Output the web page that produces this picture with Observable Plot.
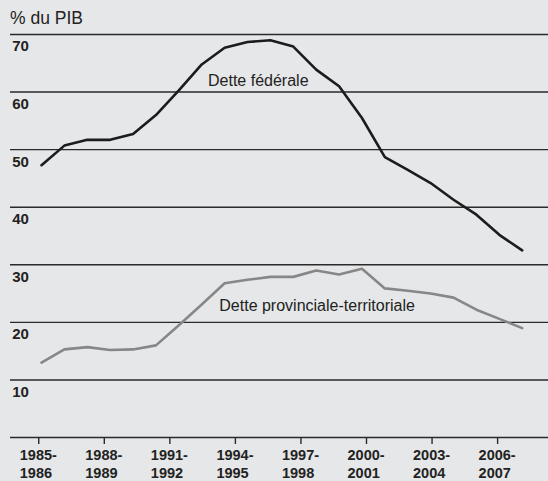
<!DOCTYPE html>
<html>
<head>
<meta charset="utf-8">
<script src="https://cdn.jsdelivr.net/npm/d3@7"></script>
<script src="https://cdn.jsdelivr.net/npm/@observablehq/plot@0.6"></script>
<style>
  html, body { margin: 0; padding: 0; background: #e6e7e8; }
  #wrap { position: relative; width: 548px; height: 481px; font-family: "Liberation Sans", Arial, sans-serif; }
  #title { position: absolute; left: 10px; top: 10px; font-size: 17.5px; line-height: 17px; color: #222; }
  svg { display: block; }
</style>
</head>
<body>
<div id="wrap">
  <div id="chart"></div>
  <div id="title">% du PIB</div>
</div>
<script>
const years = [1985,1986,1987,1988,1989,1990,1991,1992,1993,1994,1995,1996,1997,1998,1999,2000,2001,2002,2003,2004,2005,2006];
const federal = [47.3,50.7,51.7,51.7,52.7,56.0,60.3,64.8,67.7,68.7,69.0,67.9,63.9,61.0,55.5,48.7,46.5,44.2,41.3,38.7,35.2,32.5];
const provincial = [13.0,15.3,15.7,15.2,15.3,16.0,19.5,23.1,26.8,27.4,27.9,27.9,29.0,28.3,29.3,25.9,25.5,25.0,24.3,22.2,20.6,19.0];
const yTicks = [10,20,30,40,50,60,70];
const yGrid = [0,10,20,30,40,50,60,70];
const xTickYears = [1985,1988,1991,1994,1997,2000,2003,2006];
const xTickLabels = ["1985-\n1986","1988-\n1989","1991-\n1992","1994-\n1995","1997-\n1998","2000-\n2001","2003-\n2004","2006-\n2007"];
const seriesLabels = [
  {text: "Dette fédérale", year: 1994.47, value: 62.0},
  {text: "Dette provinciale-territoriale", year: 1997.04, value: 22.8}
];

const fedData = years.map((y, i) => ({year: y, value: federal[i]}));
const provData = years.map((y, i) => ({year: y, value: provincial[i]}));
const tickData = xTickYears.map((y, i) => ({year: y, label: xTickLabels[i]}));
// the original's axis ticks are spaced slightly tighter than the data points
const tickPos = d => 1985 - 0.12 + (d.year - 1985) * 21 / 22;

const chart = Plot.plot({
  width: 548,
  height: 481,
  marginLeft: 10,
  marginRight: 0,
  marginTop: 34,
  marginBottom: 44,
  style: {background: "transparent", fontFamily: "Liberation Sans, Arial, sans-serif"},
  x: {domain: [1985, 2006], insetLeft: 31, insetRight: 26.3, axis: null},
  y: {domain: [0, 70], axis: null},
  marks: [
    Plot.ruleY(yGrid, {stroke: "#2a2a2a", strokeWidth: 1.4}),
    Plot.text(yTicks, {y: d => d, text: d => String(d), frameAnchor: "left", textAnchor: "start", lineAnchor: "top", dx: 1.7, dy: 6.3, fontSize: 15, fontWeight: "bold", fill: "#222"}),
    Plot.axisX(tickData, {
      x: tickPos,
      anchor: "bottom",
      tickSize: 7,
      stroke: "#2a2a2a",
      strokeWidth: 1.4,
      tickFormat: () => "",
      label: null
    }),
    Plot.text(tickData, {
      x: tickPos,
      text: "label",
      frameAnchor: "bottom",
      lineAnchor: "top",
      textAnchor: "start",
      dx: -19,
      dy: 9.5,
      fontSize: 14.5,
      fontWeight: "bold",
      lineHeight: 1.25,
      fill: "#222"
    }),
    Plot.line(provData, {x: "year", y: "value", stroke: "#878787", strokeWidth: 2.6}),
    Plot.line(fedData, {x: "year", y: "value", stroke: "#1c1c1c", strokeWidth: 2.6}),
    Plot.text(seriesLabels, {x: "year", y: "value", text: "text", fontSize: 16, fill: "#222"})
  ]
});
document.getElementById("chart").appendChild(chart);
</script>
</body>
</html>
